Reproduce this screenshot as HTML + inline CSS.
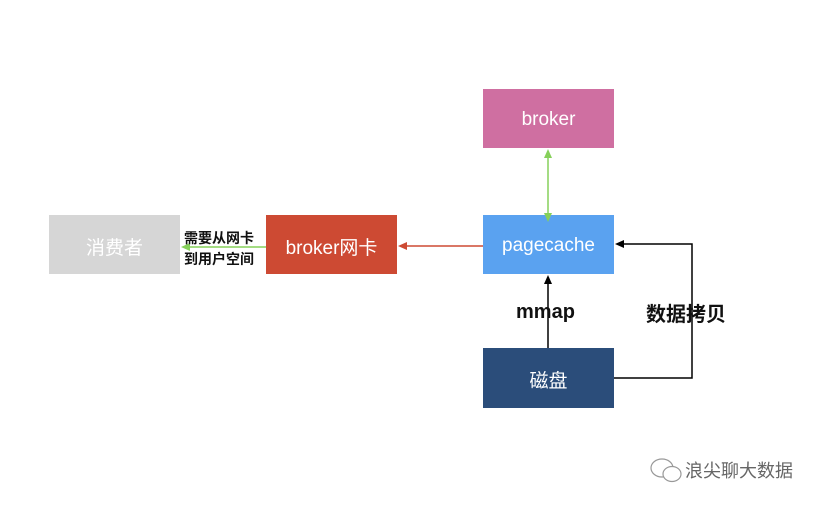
<!DOCTYPE html>
<html><head><meta charset="utf-8"><style>
body{margin:0;background:#fff;width:830px;height:506px;overflow:hidden;font-family:"Liberation Sans","Noto Sans CJK SC",sans-serif}
.b{position:absolute;display:flex;align-items:center;justify-content:center;color:#fff;font-size:19px;padding-top:3px;box-sizing:border-box}
.t{position:absolute;font-weight:bold;color:#111;white-space:nowrap}
</style></head><body>
<div class="b" style="left:483px;top:89px;width:131px;height:59px;background:#cf6fa1">broker</div>
<div class="b" style="left:483px;top:215px;width:131px;height:59px;background:#5aa2f0">pagecache</div>
<div class="b" style="left:483px;top:348px;width:131px;height:60px;background:#2b4d7a">磁盘</div>
<div class="b" style="left:49px;top:215px;width:131px;height:59px;background:#d6d6d6">消费者</div>
<div class="b" style="left:266px;top:215px;width:131px;height:59px;background:#cd4a33">broker网卡</div>
<svg width="830" height="506" style="position:absolute;left:0;top:0">
<line x1="548" y1="154" x2="548" y2="217" stroke="#86d05a" stroke-width="1.5"/>
<polygon points="548,149 544,158 552,158" fill="#86d05a"/>
<polygon points="548,222 544,213 552,213" fill="#86d05a"/>
<line x1="483" y1="246" x2="404" y2="246" stroke="#cd4a33" stroke-width="1.5"/>
<polygon points="398,246 407,242 407,250" fill="#cd4a33"/>
<line x1="266" y1="247" x2="188" y2="247" stroke="#86d05a" stroke-width="1.5"/>
<polygon points="181,247 190,243 190,251" fill="#86d05a"/>
<line x1="548" y1="348" x2="548" y2="282" stroke="#000" stroke-width="1.5"/>
<polygon points="548,275 544,284 552,284" fill="#000"/>
<polyline points="614,378 692,378 692,244 622,244" fill="none" stroke="#000" stroke-width="1.5"/>
<polygon points="615,244 624,240 624,248" fill="#000"/>
</svg>
<div class="t" style="left:184px;top:228px;font-size:14px;line-height:21px">需要从网卡<br>到用户空间</div>
<div class="t" style="left:516px;top:301px;font-size:20px">mmap</div>
<div class="t" style="left:646px;top:298px;font-size:20px">数据拷贝</div>
<svg width="40" height="30" style="position:absolute;left:648px;top:456px">
<ellipse cx="14" cy="12" rx="11" ry="9" fill="none" stroke="#999" stroke-width="1.2"/>
<ellipse cx="24" cy="18" rx="9" ry="7.5" fill="#fff" stroke="#999" stroke-width="1.2"/>
</svg>
<div style="position:absolute;left:685px;top:458px;font-size:18px;color:#666;font-family:'Noto Sans CJK SC',sans-serif;line-height:24px">浪尖聊大数据</div>
</body></html>
